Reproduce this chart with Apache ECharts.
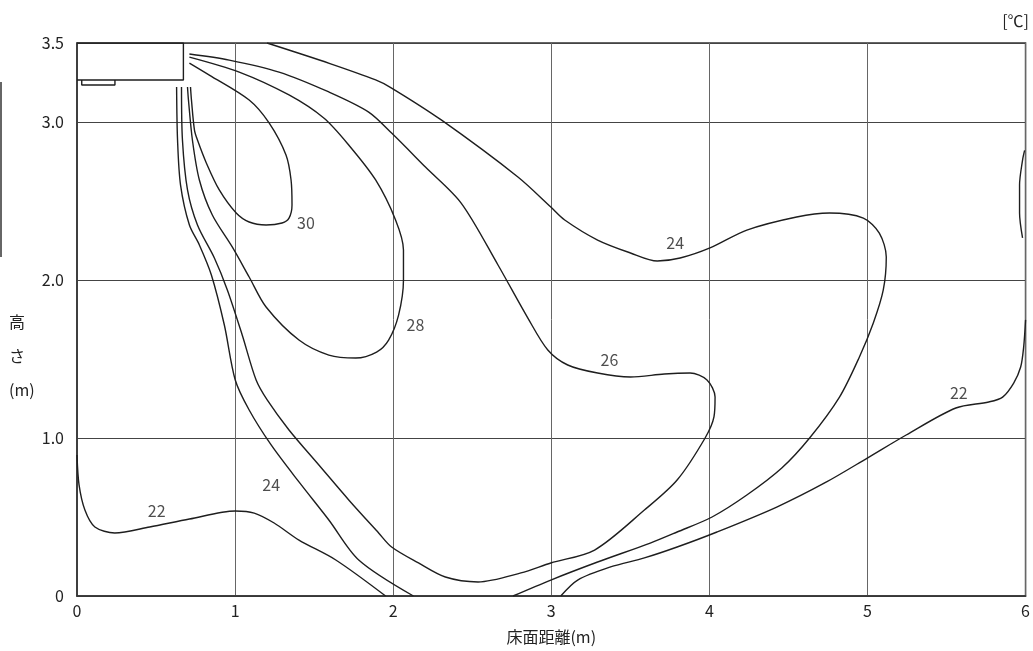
<!DOCTYPE html>
<html>
<head>
<meta charset="utf-8">
<script src="https://cdn.jsdelivr.net/npm/echarts@6/dist/echarts.min.js"></script>
<style>
  html, body { margin: 0; padding: 0; background: #fff; }
  #chart { width: 1033px; height: 651px; }
</style>
</head>
<body>
<div id="chart"></div>
<script>
// 室内機 (outline + grille)
var unitBox = [[0, 3.5], [0.673, 3.5], [0.673, 3.266], [0, 3.266]];
var unitGrille = [[0.03, 3.266], [0.03, 3.234], [0.24, 3.234], [0.24, 3.266]];

// 等温線 [床面距離(m), 高さ(m)]
var contour30 = [[0.711, 3.373], [0.837, 3.297], [1.089, 3.139], [1.215, 2.994], [1.322, 2.791], [1.354, 2.633],
  [1.360, 2.475], [1.341, 2.392], [1.297, 2.361], [1.196, 2.348], [1.089, 2.367], [1.007, 2.424], [0.900, 2.570],
  [0.818, 2.741], [0.762, 2.886], [0.743, 2.949], [0.724, 3.139], [0.718, 3.222]];

var contour28 = [[0.711, 3.411], [1.026, 3.316], [1.341, 3.171], [1.561, 3.025], [1.719, 2.854], [1.889, 2.633],
  [2.015, 2.380], [2.065, 2.190], [2.065, 2.0], [2.034, 1.778], [1.971, 1.620], [1.895, 1.544], [1.763, 1.506],
  [1.593, 1.525], [1.404, 1.620], [1.196, 1.829], [1.089, 2.019], [0.982, 2.209], [0.856, 2.411], [0.774, 2.633],
  [0.730, 2.886], [0.705, 3.139], [0.699, 3.222]];

var contour26 = [[0.711, 3.430], [0.963, 3.392], [1.278, 3.316], [1.593, 3.190], [1.845, 3.063], [1.990, 2.930],
  [2.204, 2.715], [2.430, 2.487], [2.663, 2.095], [2.852, 1.759], [2.978, 1.557], [3.104, 1.462], [3.293, 1.411],
  [3.501, 1.386], [3.715, 1.405], [3.878, 1.411], [3.985, 1.367], [4.036, 1.259], [4.029, 1.133], [3.973, 1.0],
  [3.796, 0.734], [3.589, 0.544], [3.274, 0.291], [2.997, 0.209], [2.808, 0.146], [2.537, 0.089], [2.330, 0.120],
  [2.160, 0.209], [1.990, 0.310], [1.908, 0.399], [1.719, 0.608], [1.530, 0.829], [1.341, 1.051], [1.203, 1.241],
  [1.133, 1.367], [1.045, 1.652], [0.951, 1.937], [0.869, 2.139], [0.762, 2.348], [0.699, 2.570], [0.667, 2.886],
  [0.661, 3.222]];

var contour24 = [[1.202, 3.5], [1.600, 3.370], [1.889, 3.266], [1.990, 3.215], [2.304, 3.013], [2.789, 2.652],
  [2.997, 2.462], [3.085, 2.380], [3.293, 2.253], [3.501, 2.171], [3.671, 2.120], [3.815, 2.139], [4.004, 2.203],
  [4.237, 2.316], [4.552, 2.399], [4.760, 2.424], [4.974, 2.392], [5.075, 2.297], [5.119, 2.146], [5.100, 1.937],
  [5.037, 1.728], [4.949, 1.513], [4.823, 1.259], [4.634, 1.000], [4.458, 0.810], [4.237, 0.639], [4.017, 0.500],
  [3.796, 0.405], [3.626, 0.335], [3.293, 0.215], [2.997, 0.101], [2.758, 0]];

var contour24Left = [[0.630, 3.222], [0.636, 2.886], [0.655, 2.601], [0.711, 2.348], [0.774, 2.222], [0.850, 2.032],
  [0.932, 1.715], [1.001, 1.367], [1.089, 1.177], [1.228, 0.956], [1.404, 0.722], [1.593, 0.481], [1.782, 0.228],
  [2.128, 0]];

var contour22Left = [[0, 0.892], [0.013, 0.703], [0.050, 0.544], [0.113, 0.437], [0.239, 0.399], [0.460, 0.437],
  [0.711, 0.487], [1.001, 0.538], [1.121, 0.525], [1.247, 0.462], [1.404, 0.354], [1.637, 0.228], [1.952, 0]];

var contour22Right = [[3.060, 0], [3.167, 0.101], [3.375, 0.184], [3.589, 0.241], [3.796, 0.310], [4.048, 0.405],
  [4.426, 0.563], [4.741, 0.722], [4.999, 0.873], [5.245, 1.019], [5.559, 1.190], [5.767, 1.228], [5.855, 1.259],
  [5.925, 1.348], [5.969, 1.449], [5.988, 1.576], [6.0, 1.747]];

var contour22Edge = [[5.994, 2.82], [5.981, 2.759], [5.962, 2.601], [5.962, 2.424], [5.981, 2.266]];

// 線ラベル [x, y, 温度]
var contourLabels = [[1.448, 2.361, '30'], [2.141, 1.715, '28'], [3.368, 1.494, '26'], [3.784, 2.234, '24'],
  [1.228, 0.703, '24'], [0.504, 0.538, '22'], [5.578, 1.285, '22']];

var FONT = '"Noto Sans CJK JP", "Noto Sans", sans-serif';
var LINE = '#1e1e1e';
var TEXT = '#222';

function contourSeries(data) {
  return {
    type: 'line',
    data: data,
    smooth: 0.3,
    showSymbol: false,
    silent: true,
    lineStyle: { color: LINE, width: 1.4 },
  };
}

function boxSeries(data) {
  return {
    type: 'line',
    data: data,
    smooth: false,
    showSymbol: false,
    silent: true,
    lineStyle: { color: LINE, width: 1.4 },
  };
}

var myChart = echarts.init(document.getElementById('chart'));

var option = {
  animation: false,
  backgroundColor: '#fff',
  textStyle: { fontFamily: FONT },
  grid: {
    left: 77,
    right: 3,
    top: 43,
    bottom: 55,
    show: true,
    borderColor: '#333',
    borderWidth: 1.5,
  },
  xAxis: {
    type: 'value',
    min: 0,
    max: 6,
    interval: 1,
    name: '床面距離(m)',
    nameLocation: 'middle',
    nameGap: 33,
    nameTextStyle: { color: TEXT, fontSize: 16, fontFamily: FONT },
    axisLine: { show: true, lineStyle: { color: '#333', width: 1.5 } },
    axisTick: { show: false },
    axisLabel: { color: TEXT, fontSize: 16, margin: 7, fontFamily: FONT },
    splitLine: { show: true, lineStyle: { color: '#666', width: 1 } },
  },
  yAxis: {
    type: 'value',
    min: 0,
    max: 3.5,
    interval: 1,
    axisLine: { show: true, lineStyle: { color: '#333', width: 1.5 } },
    axisTick: { show: false },
    axisLabel: {
      color: TEXT,
      fontSize: 16,
      margin: 13,
      fontFamily: FONT,
      formatter: function(v) {
        return v === 0 ? '0' : v.toFixed(1);
      },
    },
    splitLine: { show: true, lineStyle: { color: '#444', width: 1 } },
  },
  graphic: [
    {
      type: 'text',
      left: 9,
      top: 305,
      style: {
        text: '高\nさ\n(m)',
        fill: TEXT,
        font: '16px ' + FONT,
        lineHeight: 34,
        align: 'center',
      },
    },
    {
      type: 'text',
      right: 4,
      top: 13,
      style: {
        text: '[℃]',
        fill: TEXT,
        font: '16px ' + FONT,
      },
    },
    {
      type: 'line',
      shape: { x1: 1, y1: 82, x2: 1, y2: 257 },
      style: { stroke: '#333', lineWidth: 1.5 },
    },
  ],
  series: [
    boxSeries(unitBox),
    boxSeries(unitGrille),
    contourSeries(contour30),
    contourSeries(contour28),
    contourSeries(contour26),
    contourSeries(contour24),
    contourSeries(contour24Left),
    contourSeries(contour22Left),
    contourSeries(contour22Right),
    contourSeries(contour22Edge),
    {
      type: 'scatter',
      silent: true,
      symbolSize: 0,
      data: contourLabels.map(function(d) { return [d[0], d[1], d[2]]; }),
      label: {
        show: true,
        position: 'inside',
        color: TEXT,
        fontSize: 16,
        fontFamily: FONT,
        formatter: function(p) { return p.value[2]; },
      },
    },
  ],
};

myChart.setOption(option);
</script>
</body>
</html>
